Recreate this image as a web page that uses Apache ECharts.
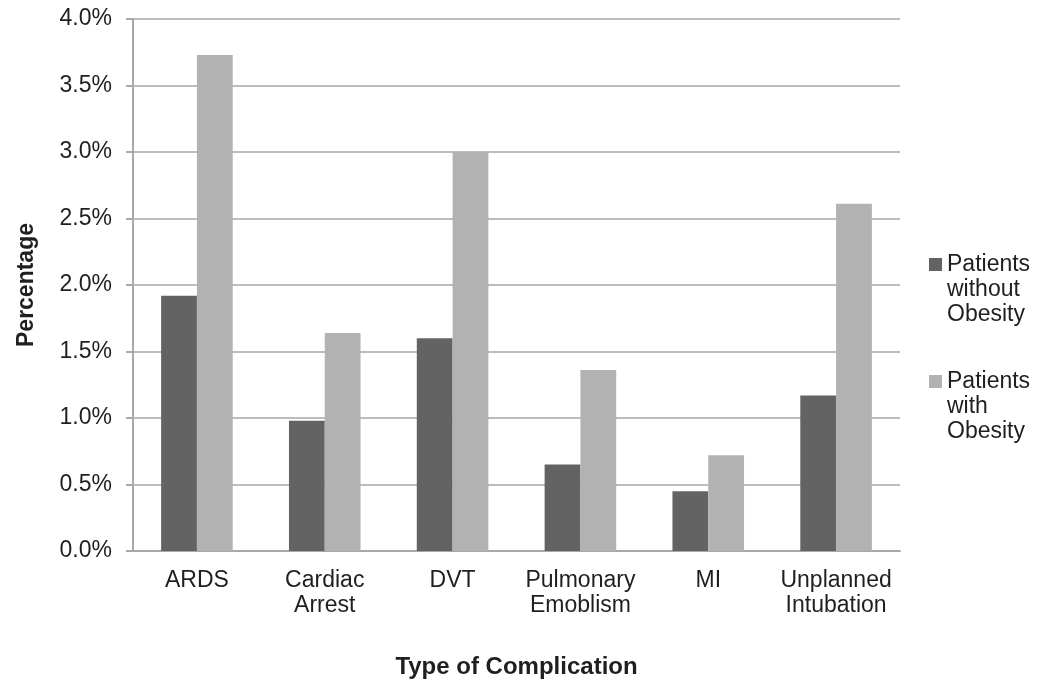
<!DOCTYPE html>
<html>
<head>
<meta charset="utf-8">
<script src="https://cdn.jsdelivr.net/npm/echarts@6/dist/echarts.min.js"></script>
<style>
html,body{margin:0;padding:0;background:#fff;}
#chart{width:1044px;height:685px;}
</style>
</head>
<body>
<div id="chart"></div>
<script>
var categories = ['ARDS', 'Cardiac\nArrest', 'DVT', 'Pulmonary\nEmoblism', 'MI', 'Unplanned\nIntubation'];
var withoutObesity = [1.92, 0.98, 1.60, 0.65, 0.45, 1.17];
var withObesity = [3.73, 1.64, 3.00, 1.36, 0.72, 2.61];
var seriesNames = ['Patients\nwithout\nObesity', 'Patients\nwith\nObesity'];
var yTicks = { min: 0, max: 4, interval: 0.5 };

var FONT = '"Liberation Sans", Arial, sans-serif';
var TXT = '#1f1f1f';
// legend icon: square at the first text line, with invisible extent points to span three lines
var ICON = 'path://M0,0h0.01v0.01h-0.01z M0,6h13v13h-13z M0,74.99h0.01v0.01h-0.01z';
var chart = echarts.init(document.getElementById('chart'), null, {renderer: 'canvas'});
chart.setOption({
  backgroundColor: '#ffffff',
  animation: false,
  grid: { left: 133, right: 144, top: 19, bottom: 134, containLabel: false },
  legend: {
    orient: 'vertical',
    left: 929,
    top: 252,
    padding: 0,
    itemGap: 42,
    itemWidth: 13,
    itemHeight: 75,
    icon: ICON,
    textStyle: { fontFamily: FONT, fontSize: 23, color: TXT, lineHeight: 25 },
    data: seriesNames
  },
  xAxis: {
    type: 'category',
    data: categories,
    name: 'Type of Complication',
    nameLocation: 'middle',
    nameGap: 104,
    nameTextStyle: { fontFamily: FONT, fontSize: 24, fontWeight: 'bold', color: TXT },
    axisLine: { lineStyle: { color: '#a8a8a8', width: 2 } },
    axisTick: { show: false },
    axisLabel: { fontFamily: FONT, fontSize: 23, color: TXT, lineHeight: 25, margin: 17, interval: 0 }
  },
  yAxis: {
    type: 'value',
    min: yTicks.min,
    max: yTicks.max,
    interval: yTicks.interval,
    name: 'Percentage',
    nameLocation: 'middle',
    nameGap: 95,
    nameRotate: 90,
    nameTextStyle: { fontFamily: FONT, fontSize: 23, fontWeight: 'bold', color: TXT },
    axisLine: { show: true, lineStyle: { color: '#a8a8a8', width: 2 } },
    axisTick: { show: true, length: 7, lineStyle: { color: '#a8a8a8', width: 2 } },
    splitLine: { lineStyle: { color: '#bcbcbc', width: 2 } },
    axisLabel: {
      fontFamily: FONT, fontSize: 23, color: TXT, margin: 21,
      formatter: function (v) { return v.toFixed(1) + '%'; }
    }
  },
  series: [
    { name: seriesNames[0], type: 'bar', data: withoutObesity, barGap: '0%', barCategoryGap: '44%',
      itemStyle: { color: '#636363' } },
    { name: seriesNames[1], type: 'bar', data: withObesity, barGap: '0%', barCategoryGap: '44%',
      itemStyle: { color: '#b2b2b2' } }
  ]
});
</script>
</body>
</html>
